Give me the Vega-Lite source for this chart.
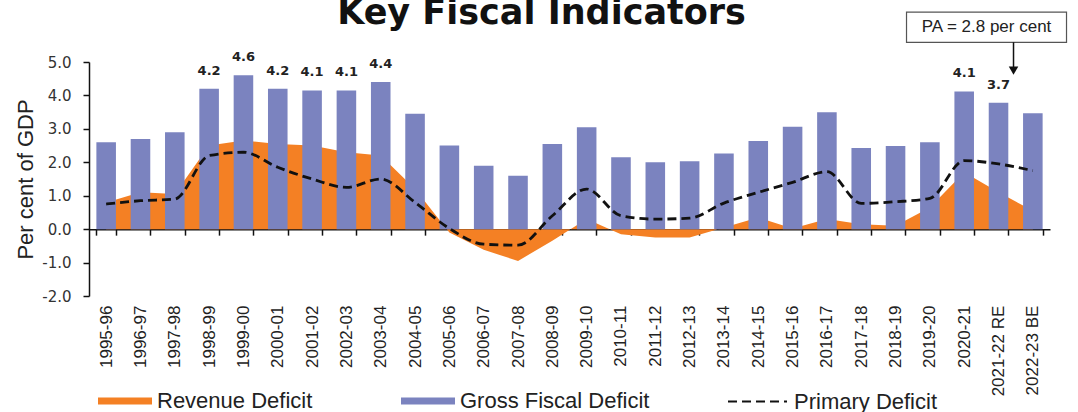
{
  "$schema": "https://vega.github.io/schema/vega-lite/v6.json",
  "width": 961,
  "height": 234,
  "autosize": "none",
  "padding": {"left": 89, "top": 62, "right": 28, "bottom": 116},
  "background": "white",
  "title": {"text": "Key Fiscal Indicators", "font": "DejaVu Sans", "fontSize": 35, "fontWeight": "bold", "color": "#111111", "anchor": "middle", "offset": -19, "dx": -28},
  "config": {"view": {"stroke": null}, "axis": {"grid": false}, "axisY": {"tickCount": 8}},
  "data": {"values": [
    {"year": "1995-96", "gfd": 2.6, "rd": 0.8, "pd": 0.75, "lab": null},
    {"year": "1996-97", "gfd": 2.7, "rd": 1.1, "pd": 0.85, "lab": null},
    {"year": "1997-98", "gfd": 2.9, "rd": 1.05, "pd": 0.9, "lab": null},
    {"year": "1998-99", "gfd": 4.2, "rd": 2.5, "pd": 2.2, "lab": "4.2"},
    {"year": "1999-00", "gfd": 4.6, "rd": 2.65, "pd": 2.3, "lab": "4.6"},
    {"year": "2000-01", "gfd": 4.2, "rd": 2.55, "pd": 1.85, "lab": "4.2"},
    {"year": "2001-02", "gfd": 4.15, "rd": 2.5, "pd": 1.5, "lab": "4.1"},
    {"year": "2002-03", "gfd": 4.15, "rd": 2.3, "pd": 1.25, "lab": "4.1"},
    {"year": "2003-04", "gfd": 4.4, "rd": 2.2, "pd": 1.5, "lab": "4.4"},
    {"year": "2004-05", "gfd": 3.45, "rd": 1.2, "pd": 0.8, "lab": null},
    {"year": "2005-06", "gfd": 2.5, "rd": -0.1, "pd": 0.02, "lab": null},
    {"year": "2006-07", "gfd": 1.9, "rd": -0.62, "pd": -0.45, "lab": null},
    {"year": "2007-08", "gfd": 1.6, "rd": -0.95, "pd": -0.48, "lab": null},
    {"year": "2008-09", "gfd": 2.55, "rd": -0.35, "pd": 0.4, "lab": null},
    {"year": "2009-10", "gfd": 3.05, "rd": 0.3, "pd": 1.2, "lab": null},
    {"year": "2010-11", "gfd": 2.15, "rd": -0.15, "pd": 0.4, "lab": null},
    {"year": "2011-12", "gfd": 2.0, "rd": -0.25, "pd": 0.3, "lab": null},
    {"year": "2012-13", "gfd": 2.03, "rd": -0.25, "pd": 0.33, "lab": null},
    {"year": "2013-14", "gfd": 2.26, "rd": 0.05, "pd": 0.78, "lab": null},
    {"year": "2014-15", "gfd": 2.64, "rd": 0.35, "pd": 1.1, "lab": null},
    {"year": "2015-16", "gfd": 3.06, "rd": 0.02, "pd": 1.4, "lab": null},
    {"year": "2016-17", "gfd": 3.5, "rd": 0.3, "pd": 1.72, "lab": null},
    {"year": "2017-18", "gfd": 2.43, "rd": 0.15, "pd": 0.77, "lab": null},
    {"year": "2018-19", "gfd": 2.49, "rd": 0.1, "pd": 0.82, "lab": null},
    {"year": "2019-20", "gfd": 2.6, "rd": 0.65, "pd": 0.92, "lab": null},
    {"year": "2020-21", "gfd": 4.12, "rd": 1.7, "pd": 2.05, "lab": "4.1"},
    {"year": "2021-22 RE", "gfd": 3.78, "rd": 1.1, "pd": 1.95, "lab": "3.7"},
    {"year": "2022-23 BE", "gfd": 3.47, "rd": 0.55, "pd": 1.75, "lab": null}
  ]},
  "layer": [
    {
      "mark": {"type": "area", "interpolate": "linear", "opacity": 1},
      "encoding": {
        "x": {"field": "year", "type": "nominal", "sort": null,
          "scale": {"domain": ["1995-96","1996-97","1997-98","1998-99","1999-00","2000-01","2001-02","2002-03","2003-04","2004-05","2005-06","2006-07","2007-08","2008-09","2009-10","2010-11","2011-12","2012-13","2013-14","2014-15","2015-16","2016-17","2017-18","2018-19","2019-20","2020-21","2021-22 RE","2022-23 BE"], "paddingInner": 0.43, "paddingOuter": 0.215},
          "axis": {"title": null, "orient": "bottom", "offset": -66.86, "domainColor": "#111111", "domainWidth": 1.5, "tickColor": "#111111", "tickWidth": 1.5, "tickSize": 6, "tickBand": "extent", "labelAngle": -90, "labelPadding": 70, "labelFont": "Liberation Sans", "labelFontSize": 17, "labelColor": "#222222", "labelOverlap": false}},
        "y": {"field": "rd", "type": "quantitative",
          "scale": {"domain": [-2, 5], "nice": false, "zero": false},
          "axis": {"title": "Per cent of GDP", "values": [-2, -1, 0, 1, 2, 3, 4, 5], "tickCount": 8, "format": ".1f", "labelExpr": "replace(format(datum.value, '.1f'), '\u2212', '-')", "labelOverlap": false, "domainColor": "#111111", "domainWidth": 1.5, "tickColor": "#111111", "tickWidth": 1.5, "tickSize": 6, "labelFont": "DejaVu Sans", "labelFontSize": 15, "labelColor": "#333333", "labelPadding": 12, "titleFont": "Liberation Sans", "titleFontSize": 22, "titleFontWeight": "normal", "titleColor": "#222222", "titlePadding": 4}},
        "color": {"datum": "Revenue Deficit", "type": "nominal",
          "scale": {"domain": ["Revenue Deficit", "Gross Fiscal Deficit"], "range": ["#F48024", "#7B83BF"]},
          "legend": {"orient": "none", "legendX": 9, "legendY": 312, "direction": "horizontal", "title": null, "symbolType": "M-1,-0.13H1V0.13H-1Z", "symbolSize": 2916, "symbolStrokeWidth": 0, "symbolOpacity": 1, "labelFont": "Liberation Sans", "labelFontSize": 22, "labelColor": "#222222", "labelOffset": 5, "labelLimit": 300, "columnPadding": 88, "padding": 0}}
      }
    },
    {
      "mark": {"type": "bar"},
      "encoding": {
        "x": {"field": "year", "type": "nominal", "sort": null},
        "y": {"field": "gfd", "type": "quantitative", "axis": {"values": [-2, -1, 0, 1, 2, 3, 4, 5], "labelOverlap": false}},
        "color": {"datum": "Gross Fiscal Deficit", "type": "nominal"}
      }
    },
    {
      "mark": {"type": "line", "interpolate": "monotone", "color": "#111111", "strokeWidth": 2.8},
      "encoding": {
        "x": {"field": "year", "type": "nominal", "sort": null},
        "y": {"field": "pd", "type": "quantitative", "axis": {"values": [-2, -1, 0, 1, 2, 3, 4, 5], "labelOverlap": false}},
        "strokeDash": {"datum": "Primary Deficit", "type": "nominal",
          "scale": {"domain": ["Primary Deficit"], "range": [[9, 5]]},
          "legend": {"orient": "none", "legendX": 638, "legendY": 309, "title": null, "symbolType": "stroke", "symbolSize": 3481, "symbolStrokeWidth": 2, "symbolStrokeColor": "#111111", "symbolDash": [5.5, 3.3], "labelFont": "Liberation Sans", "labelFontSize": 22, "labelColor": "#222222", "labelOffset": 6, "labelLimit": 300, "padding": 0,
            "encode": {"symbols": {"update": {"strokeDash": {"value": [5.5, 3.3]}, "stroke": {"value": "#111111"}}}}}}
      }
    },
    {
      "transform": [{"filter": "datum.lab != null"}],
      "mark": {"type": "text", "dy": -11, "baseline": "bottom", "align": "center", "font": "DejaVu Sans", "fontSize": 13, "fontWeight": "bold", "color": "#222222"},
      "encoding": {
        "x": {"field": "year", "type": "nominal", "sort": null},
        "y": {"field": "gfd", "type": "quantitative", "axis": {"values": [-2, -1, 0, 1, 2, 3, 4, 5], "labelOverlap": false}},
        "text": {"field": "lab", "type": "nominal"}
      }
    },
    {
      "data": {"values": [{"note": "PA = 2.8 per cent"}]},
      "mark": {"type": "bar", "width": 160, "xOffset": -12, "fill": "white", "stroke": "#555555", "strokeWidth": 1.2},
      "encoding": {
        "x": {"datum": "2021-22 RE", "type": "nominal"},
        "y": {"datum": 6.49, "type": "quantitative", "axis": {"values": [-2, -1, 0, 1, 2, 3, 4, 5], "labelOverlap": false}},
        "y2": {"datum": 5.59}
      }
    },
    {
      "data": {"values": [{"note": "PA = 2.8 per cent"}]},
      "mark": {"type": "text", "xOffset": -12, "font": "Liberation Sans", "fontSize": 17, "color": "#222222", "align": "center", "baseline": "middle"},
      "encoding": {
        "x": {"datum": "2021-22 RE", "type": "nominal"},
        "y": {"datum": 6.04, "type": "quantitative", "axis": {"values": [-2, -1, 0, 1, 2, 3, 4, 5], "labelOverlap": false}},
        "text": {"field": "note", "type": "nominal"}
      }
    },
    {
      "data": {"values": [{"note": "PA = 2.8 per cent"}]},
      "mark": {"type": "rule", "xOffset": 15, "color": "#111111", "strokeWidth": 1.5},
      "encoding": {
        "x": {"datum": "2021-22 RE", "type": "nominal"},
        "y": {"datum": 5.59, "type": "quantitative", "axis": {"values": [-2, -1, 0, 1, 2, 3, 4, 5], "labelOverlap": false}},
        "y2": {"datum": 4.74}
      }
    },
    {
      "data": {"values": [{"note": "PA = 2.8 per cent"}]},
      "mark": {"type": "point", "shape": "triangle-down", "filled": true, "color": "#111111", "opacity": 1, "size": 90, "xOffset": 15},
      "encoding": {
        "x": {"datum": "2021-22 RE", "type": "nominal"},
        "y": {"datum": 4.74, "type": "quantitative", "axis": {"values": [-2, -1, 0, 1, 2, 3, 4, 5], "labelOverlap": false}}
      }
    }
  ]
}
